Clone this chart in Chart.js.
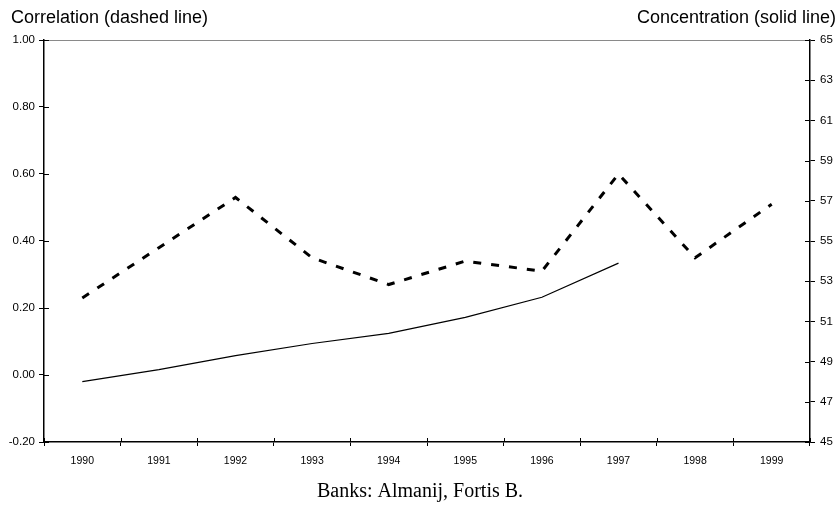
<!DOCTYPE html>
<html><head><meta charset="utf-8">
<script src="https://cdn.jsdelivr.net/npm/chart.js@4"></script>
<style>html,body{margin:0;padding:0;background:#fff}canvas{display:block}</style>
</head><body>
<canvas id="c" width="840" height="511"></canvas>
<script>
const years = ['1990','1991','1992','1993','1994','1995','1996','1997','1998','1999'];
const correlation = [0.23, 0.38, 0.53, 0.35, 0.27, 0.34, 0.31, 0.60, 0.35, 0.51];
const concentration = [48.0, 48.6, 49.3, 49.9, 50.4, 51.2, 52.2, 53.9, null, null];
const leftTicks = [-0.2, 0, 0.2, 0.4, 0.6, 0.8, 1.0];
const rightTicks = [45, 47, 49, 51, 53, 55, 57, 59, 61, 63, 65];
const leftTitle = 'Correlation (dashed line)';
const rightTitle = 'Concentration (solid line)';
const caption = 'Banks: Almanij, Fortis B.';

const fontSans = 'Liberation Sans, Arial, sans-serif';

const decor = {
  id: 'decor',
  afterDraw(chart) {
    const {ctx, chartArea: a, scales} = chart;
    ctx.save();
    ctx.strokeStyle = '#8a8a8a';
    ctx.lineWidth = 1;
    ctx.beginPath();
    ctx.moveTo(a.left, a.top + 0.5);
    ctx.lineTo(a.right, a.top + 0.5);
    ctx.stroke();
    // inner halves of crossing ticks
    ctx.strokeStyle = '#000';
    ctx.beginPath();
    scales.yL.ticks.forEach(t => {
      const y = Math.round(scales.yL.getPixelForValue(t.value)) + 0.5;
      ctx.moveTo(a.left, y); ctx.lineTo(a.left + 5, y);
    });
    scales.yR.ticks.forEach(t => {
      const y = Math.round(scales.yR.getPixelForValue(t.value)) + 0.5;
      ctx.moveTo(a.right - 5, y); ctx.lineTo(a.right, y);
    });
    const n = scales.x.ticks.length;
    for (let i = 0; i <= n; i++) {
      const x = Math.round(a.left + (a.right - a.left) * i / n) + 0.5;
      ctx.moveTo(x, a.bottom - 4); ctx.lineTo(x, a.bottom);
    }
    ctx.stroke();
    ctx.fillStyle = '#000';
    ctx.font = '18px ' + fontSans;
    ctx.textBaseline = 'alphabetic';
    ctx.textAlign = 'left';
    ctx.fillText(leftTitle, 11, 23);
    ctx.textAlign = 'right';
    ctx.fillText(rightTitle, 836, 23);
    ctx.restore();
  }
};

new Chart(document.getElementById('c'), {
  type: 'line',
  data: {
    labels: years,
    datasets: [
      {
        label: 'Correlation', data: correlation, yAxisID: 'yL',
        borderColor: '#000', borderWidth: 3, borderDash: [8, 10],
        pointRadius: 0, tension: 0, fill: false
      },
      {
        label: 'Concentration', data: concentration, yAxisID: 'yR',
        borderColor: '#000', borderWidth: 1.2,
        pointRadius: 0, tension: 0, fill: false, spanGaps: false
      }
    ]
  },
  options: {
    responsive: false,
    animation: false,
    devicePixelRatio: 1,
    layout: { padding: { top: 40, left: 0, right: 0, bottom: 0 } },
    plugins: {
      legend: { display: false },
      tooltip: { enabled: false },
      title: {
        display: true, position: 'bottom', text: caption,
        color: '#000',
        font: { family: 'Liberation Serif, Times New Roman, serif', size: 20, weight: 'normal', lineHeight: 1.2 },
        padding: { top: 8, bottom: 7 }
      }
    },
    scales: {
      x: {
        type: 'category', offset: true,
        grid: { display: true, drawOnChartArea: false, offset: true, tickLength: 4, color: '#000', lineWidth: 1 },
        border: { display: true, color: '#000', width: 1.5 },
        ticks: { color: '#000', font: { family: fontSans, size: 10.5 }, padding: 9, maxRotation: 0, autoSkip: false },
        afterFit(s) { s.height = 30; }
      },
      yL: {
        position: 'left', min: -0.2, max: 1.0,
        afterBuildTicks(s) { s.ticks = leftTicks.map(v => ({value: v})); },
        grid: { display: true, drawOnChartArea: false, tickLength: 5, color: '#000', lineWidth: 1 },
        border: { display: true, color: '#000', width: 1.5 },
        ticks: { color: '#000', font: { family: fontSans, size: 11.5 }, padding: 4, callback: v => v.toFixed(2) },
        afterFit(s) { s.width = 44; }
      },
      yR: {
        position: 'right', min: 45, max: 65,
        afterBuildTicks(s) { s.ticks = rightTicks.map(v => ({value: v})); },
        grid: { display: true, drawOnChartArea: false, tickLength: 5, color: '#000', lineWidth: 1 },
        border: { display: true, color: '#000', width: 1.5 },
        ticks: { color: '#000', font: { family: fontSans, size: 11.5 }, padding: 5, callback: v => String(v) },
        afterFit(s) { s.width = 30; }
      }
    }
  },
  plugins: [decor]
});
</script>
</body></html>
